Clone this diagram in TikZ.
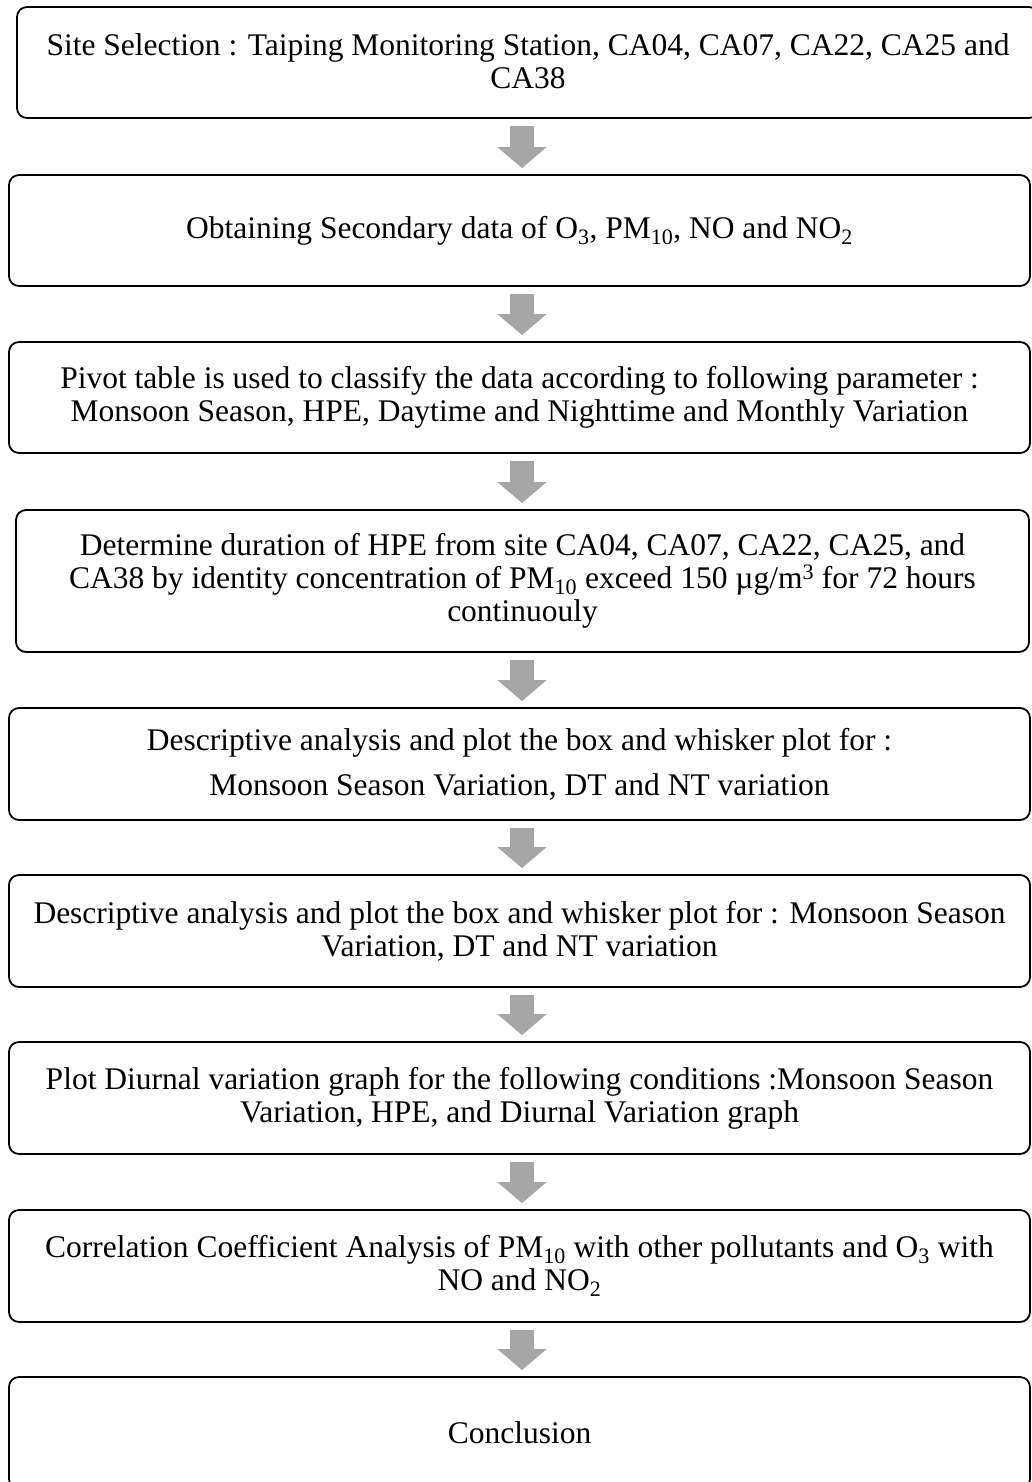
\documentclass[tikz,border=0pt]{standalone}
\usepackage{fontspec}
\setmainfont{Liberation Serif}
\usetikzlibrary{arrows.meta}
\definecolor{arrowgray}{RGB}{166,166,166}
\tikzset{
  stepbox/.style={draw=black, line width=1.8pt, rounded corners=10pt, inner sep=0pt},
  boxtext/.style={align=center, inner sep=0pt, font=\fontsize{31.5}{33}\selectfont},
  bigarrow/.style={draw=arrowgray, line width=24pt,
    -{Triangle[width=48pt,length=21pt,color=arrowgray]},
    shorten <=7pt, shorten >=6pt}
}
\begin{document}
\begin{tikzpicture}[x=1pt,y=-1pt]
\useasboundingbox (0,0) rectangle (1032,1482);
\clip (0,0) rectangle (1032,1482);
\coordinate (ax) at (522,0);
% boxes
\node[stepbox, minimum width=1022pt, minimum height=111pt] (b1) at (528,62.5) {};
\node[boxtext, anchor=north] (t1) at (528,33) {Site Selection : Taiping Monitoring Station, CA04, CA07, CA22, CA25 and\\CA38};
\node[stepbox, boxtext, minimum width=1021pt, minimum height=111pt] (b2) at (519.5,230.5)
  {Obtaining Secondary data of O\textsubscript{3}, PM\textsubscript{10}, NO and NO\textsubscript{2}};
\node[stepbox, boxtext, minimum width=1021pt, minimum height=111pt] (b3) at (519.5,397.5)
  {Pivot table is used to classify the data according to following parameter :\\Monsoon Season, HPE, Daytime and Nighttime and Monthly Variation};
\node[stepbox, boxtext, minimum width=1013pt, minimum height=142pt] (b4) at (522.5,581)
  {Determine duration of HPE from site CA04, CA07, CA22, CA25, and\\CA38 by identity concentration of PM\textsubscript{10} exceed 150 µg/m\textsuperscript{3} for 72 hours\\continuouly};
\node[stepbox, boxtext, minimum width=1021pt, minimum height=112pt] (b5) at (519.5,764)
  {Descriptive analysis and plot the box and whisker plot for :\\[12pt]Monsoon Season Variation, DT and NT variation};
\node[stepbox, boxtext, minimum width=1021pt, minimum height=112pt] (b6) at (519.5,931)
  {Descriptive analysis and plot the box and whisker plot for : Monsoon Season\\Variation, DT and NT variation};
\node[stepbox, boxtext, minimum width=1021pt, minimum height=112pt] (b7) at (519.5,1098)
  {Plot Diurnal variation graph for the following conditions :Monsoon Season\\Variation, HPE, and Diurnal Variation graph};
\node[stepbox, boxtext, minimum width=1021pt, minimum height=112pt] (b8) at (519.5,1266)
  {Correlation Coefficient Analysis of PM\textsubscript{10} with other pollutants and O\textsubscript{3} with\\NO and NO\textsubscript{2}};
\node[stepbox, boxtext, minimum width=1021pt, minimum height=112pt] (b9) at (519.5,1433)
  {Conclusion};
% arrows
\draw[bigarrow] (b1.south -| ax) -- (b2.north -| ax);
\draw[bigarrow] (b2.south -| ax) -- (b3.north -| ax);
\draw[bigarrow] (b3.south -| ax) -- (b4.north -| ax);
\draw[bigarrow] (b4.south -| ax) -- (b5.north -| ax);
\draw[bigarrow] (b5.south -| ax) -- (b6.north -| ax);
\draw[bigarrow] (b6.south -| ax) -- (b7.north -| ax);
\draw[bigarrow] (b7.south -| ax) -- (b8.north -| ax);
\draw[bigarrow] (b8.south -| ax) -- (b9.north -| ax);
\end{tikzpicture}
\end{document}
